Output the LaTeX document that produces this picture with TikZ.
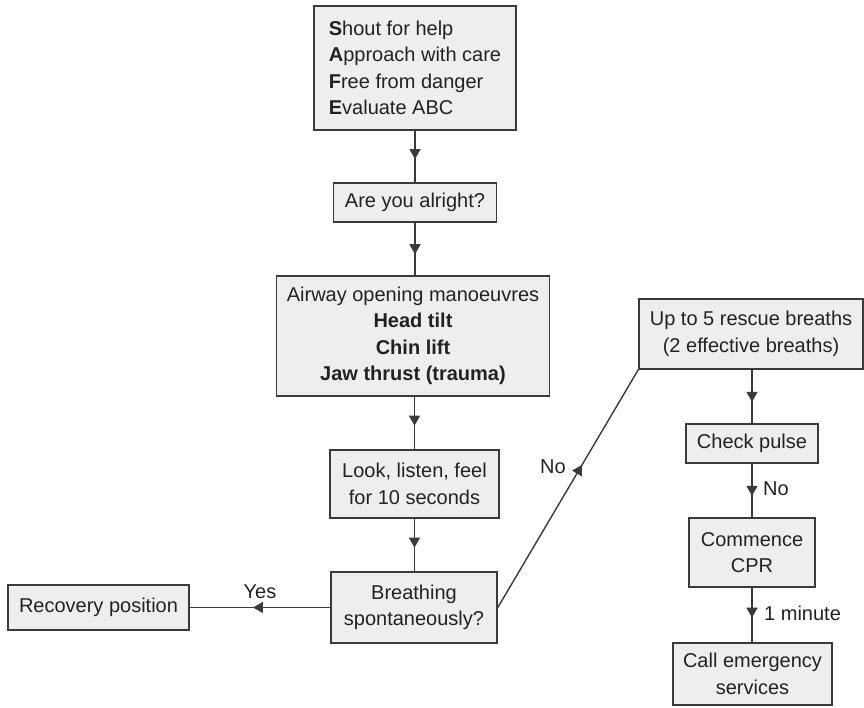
\documentclass[tikz,border=0pt]{standalone}
\usepackage{fontspec}
\setmainfont{Liberation Sans}
\usetikzlibrary{decorations.markings,arrows.meta}
\definecolor{boxfill}{HTML}{EEEEEE}
\definecolor{ink}{HTML}{3A3A3A}
\definecolor{txt}{HTML}{222222}
\tikzset{
  box/.style={draw=ink, line width=1.6pt, fill=boxfill, text=txt,
    font=\fontsize{20}{26.5}\selectfont, align=center, inner sep=0pt},
  conn/.style={draw=ink, line width=1.4pt},
  midarrow/.style={postaction={decorate}, decoration={markings,
    mark=at position #1 with {\arrow[ink]{Triangle[length=10pt,width=11pt]}}}},
  lbl/.style={text=txt, font=\fontsize{20}{24}\selectfont, inner sep=0pt}
}
\begin{document}
\begin{tikzpicture}[x=1pt,y=-1pt]
\useasboundingbox (0,0) rectangle (864,708);
\node[box, align=left, minimum width=202pt, minimum height=124pt] (safe) at (415,68)
  {\textbf{S}hout for help\\ \textbf{A}pproach with care\\ \textbf{F}ree from danger\\ \textbf{E}valuate ABC};
\node[box, minimum width=163pt, minimum height=39pt] (alright) at (415,202.5) {Are you alright?};
\node[box, minimum width=273pt, minimum height=120pt] (airway) at (413,336)
  {Airway opening manoeuvres\\ \textbf{Head tilt}\\ \textbf{Chin lift}\\ \textbf{Jaw thrust (trauma)}};
\node[box, minimum width=169pt, minimum height=68pt] (look) at (414.5,484) {Look, listen, feel\\ for 10 seconds};
\node[box, minimum width=166pt, minimum height=71pt] (breath) at (414,607.5) {Breathing\\ spontaneously?};
\node[box, minimum width=181pt, minimum height=45pt] (recov) at (98.5,607.5) {Recovery position};
\node[box, minimum width=224pt, minimum height=70pt] (rescue) at (751,334) {Up to 5 rescue breaths\\ (2 effective breaths)};
\node[box, minimum width=132pt, minimum height=39pt] (pulse) at (752,443.5) {Check pulse};
\node[box, minimum width=126pt, minimum height=69pt] (cpr) at (752,552.5) {Commence\\ CPR};
\node[box, minimum width=159pt, minimum height=62pt] (emerg) at (752.5,674) {Call emergency\\ services};

\draw[conn, midarrow=0.55] (safe.south) -- (safe.south |- alright.north);
\draw[conn, midarrow=0.6] (alright.south) -- (alright.south |- airway.north);
\draw[conn, midarrow=0.55] (airway.south -| look.north) -- (look.north);
\draw[conn, midarrow=0.55] (look.south) -- (look.south |- breath.north);
\draw[conn, midarrow=0.55] (breath.west) -- (recov.east);
\draw[conn, midarrow=0.6] (breath.east) -- (rescue.south west);
\draw[conn, midarrow=0.6] (rescue.south -| pulse.north) -- (pulse.north);
\draw[conn, midarrow=0.6] (pulse.south) -- (pulse.south |- cpr.north);
\draw[conn, midarrow=0.55] (cpr.south) -- (cpr.south |- emerg.north);

\node[lbl] (yes) at (260,592) {Yes};
\node[lbl] (no1) at (553,467) {No};
\node[lbl, anchor=west] (no2) at (763,489) {No};
\node[lbl, anchor=west] (min) at (764,613) {1 minute};
\end{tikzpicture}
\end{document}
